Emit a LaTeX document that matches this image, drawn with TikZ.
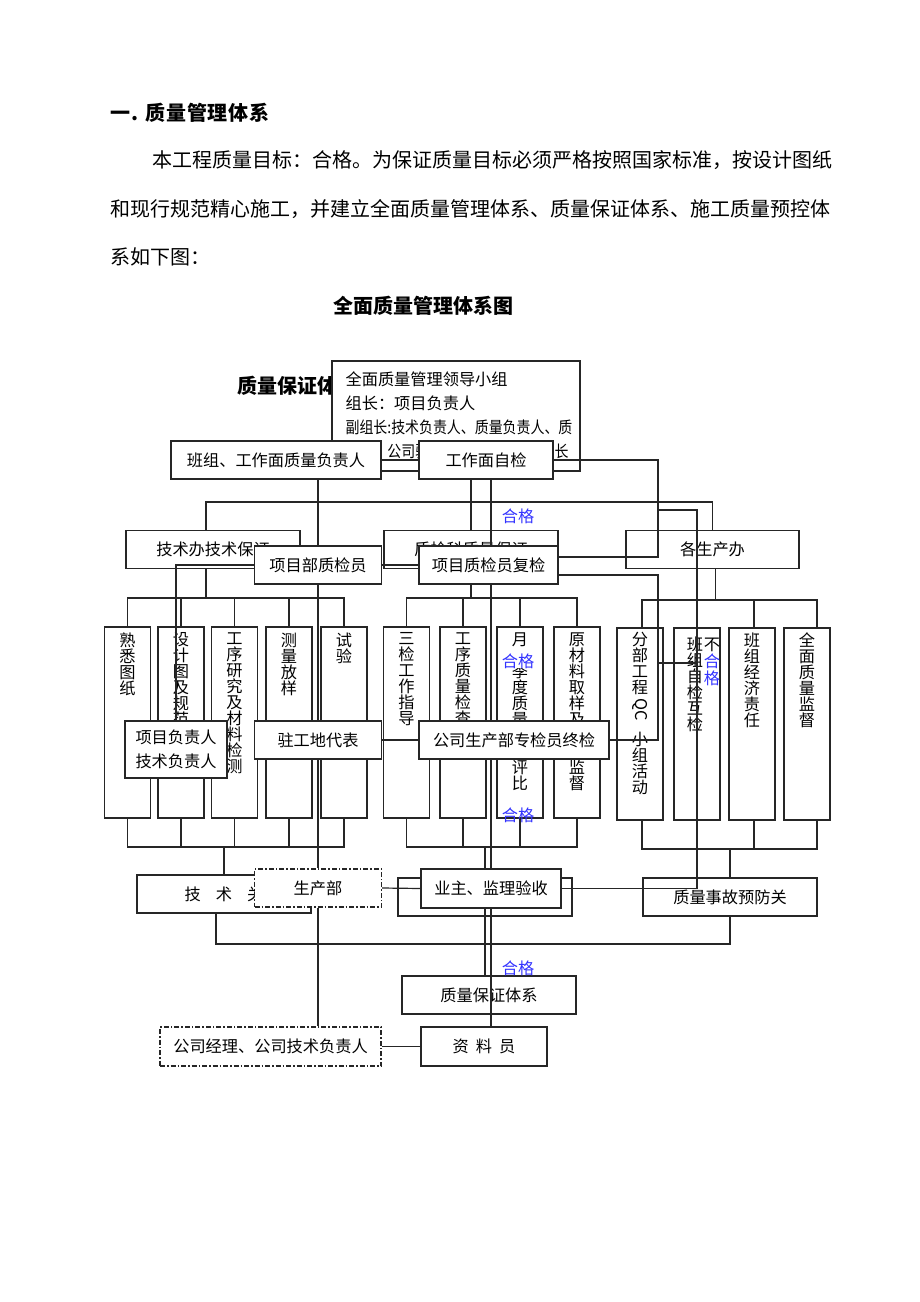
\documentclass[tikz,border=0pt]{standalone}
\usepackage{fontspec}
\setmainfont{Noto Sans CJK SC}
\usepackage{graphicx}
\definecolor{okblue}{RGB}{51,51,255}
\newcommand\bodyfont{\fontsize{20}{24}\selectfont}
\newcommand\boxfont{\fontsize{16.2}{23.5}\selectfont}
\newcommand\colfont{\fontsize{16.2}{16}\selectfont}

\begin{document}
\begin{tikzpicture}[x=1pt,y=-1pt,
        every node/.style={inner sep=0pt},
        line width=1.2pt, draw=black!85,
        box/.style={draw, fill=white, minimum height=38, font=\boxfont},
        dashbox/.style={box, dash pattern=on 5pt off 2pt on 1.5pt off 2pt},
        col/.style={draw, fill=white, minimum width=46, minimum height=191},
        coltext/.style={anchor=north, align=center, font=\colfont},
        ok/.style={text=okblue, font=\boxfont}]
    \useasboundingbox (0,0) rectangle (920,1302);

    % text above the chart
    \node[anchor=west, font=\bodyfont\bfseries\addfontfeature{LetterSpace=4}, name=head] at (110,113) {一. 质量管理体系};
    \node[anchor=west, font=\bodyfont, name=par1] at (152,160) {本工程质量目标：合格。为保证质量目标必须严格按照国家标准，按设计图纸};
    \node[anchor=west, font=\bodyfont, name=par2] at (110,209) {和现行规范精心施工，并建立全面质量管理体系、质量保证体系、施工质量预控体};
    \node[anchor=west, font=\bodyfont, name=par3] at (110,257) {系如下图：};
    \node[font=\bodyfont\bfseries, name=title] at (423,306) {全面质量管理体系图};
    \node[anchor=west, font=\bodyfont\bfseries, name=qatitle] at (237,386) {质量保证体系图};

    % full quality chart: lines
    \coordinate (busl) at (0,502);
    \coordinate (busa) at (0,598);
    \coordinate (busb) at (0,847);
    \coordinate (busc) at (0,600);
    \coordinate (busd) at (0,849);
    \coordinate (buse) at (0,944);

    \node[draw, fill=white, minimum width=248, minimum height=110, name=lead] at (456,416) {};
    \node[anchor=north west, align=left, font=\fontsize{16.2}{24}\selectfont, name=leadtext] at (345,371)
        {全面质量管理领导小组\\组长：项目负责人\\
         \scalebox{0.86}[1]{副组长:技术负责人、质量负责人、质}\\
         \scalebox{0.86}[1]{检员、公司驻工地代表、施工班组长}};

    \node[box, minimum width=174, name=b3] at (213,549.5) {技术办技术保证};
    \node[box, minimum width=174, name=b4] at (471,549.5) {质检科质量保证};
    \node[box, minimum width=173, name=b5] at (712.5,549.5) {各生产办};

    \draw (lead.south -| b4.north) -- (b4.north);
    \draw ([xshift=-7pt]b3.north) |- (b5.north |- busl) -- (b5.north);

    \draw ([xshift=-7pt]b3.south) -- ([xshift=-7pt]b3.south |- busa);
    \draw (b4.south) -- (b4.south |- busa);
    \draw ([xshift=3pt]b5.south) -- ([xshift=3pt]b5.south |- busc);

    \node[col, name=l1] at (127.5,722.5) {};
    \node[col, name=l2] at (181,722.5) {};
    \node[col, name=l3] at (234.5,722.5) {};
    \node[col, name=l4] at (289,722.5) {};
    \node[col, name=l5] at (344,722.5) {};
    \node[col, name=m1] at (406.5,722.5) {};
    \node[col, name=m2] at (463,722.5) {};
    \node[col, name=m3] at (520,722.5) {};
    \node[col, name=m4] at (577,722.5) {};
    \node[col, minimum height=192, name=r1] at (640,724) {};
    \node[col, minimum height=192, name=r2] at (697,724) {};
    \node[col, minimum height=192, name=r3] at (752,724) {};
    \node[col, minimum height=192, name=r4] at (807,724) {};

    \draw (l1.north) |- (l5.north |- busa) -- (l5.north);
    \draw (l1.south) |- (l5.south |- busb) -- (l5.south);
    \foreach \n in {l2,l3,l4} {
        \draw (\n.north) -- (\n.north |- busa);
        \draw (\n.south) -- (\n.south |- busb);
    }
    \draw (m1.north) |- (m4.north |- busa) -- (m4.north);
    \draw (m1.south) |- (m4.south |- busb) -- (m4.south);
    \foreach \n in {m2,m3} {
        \draw (\n.north) -- (\n.north |- busa);
        \draw (\n.south) -- (\n.south |- busb);
    }
    \draw ([xshift=2pt]r1.north) |- ([xshift=10pt]r4.north |- busc) -- ([xshift=10pt]r4.north);
    \draw ([xshift=2pt]r1.south) |- ([xshift=10pt]r4.south |- busd) -- ([xshift=10pt]r4.south);
    \draw (r2.north) -- (r2.north |- busc);
    \draw (r2.south) -- (r2.south |- busd);
    \draw ([xshift=2pt]r3.north) -- ([xshift=2pt]r3.north |- busc);
    \draw ([xshift=2pt]r3.south) -- ([xshift=2pt]r3.south |- busd);

    \node[box, minimum width=174, name=jsg] at (224,894) {技\hspace{15pt}术\hspace{15pt}关};
    \node[draw, minimum width=174, minimum height=38, name=zlg] at (485,897) {};
    \node[box, minimum width=174, name=sgg] at (730,897) {质量事故预防关};
    \node[box, minimum width=174, name=zlbz] at (489,995) {质量保证体系};

    \draw (jsg.north) -- (jsg.north |- busb);
    \draw (sgg.north) -- (sgg.north |- busd);
    \draw ([xshift=-8pt]jsg.south) |- (sgg.south |- buse) -- (sgg.south);
    \draw (zlg.north |- busb) -- (zlg.north |- zlbz.north);

    % column texts
    \node[coltext, name=tl1] at (127.5,632) {熟\\悉\\图\\纸};
    \node[coltext, name=tl2] at (181,632) {设\\计\\图\\及\\规\\范};
    \node[coltext, name=tl3] at (234.5,632) {工\\序\\研\\究\\及\\材\\料\\检\\测};
    \node[coltext, name=tl4] at (289,632) {测\\量\\放\\样};
    \node[coltext, name=tl5] at (344,632) {试\\验};
    \node[coltext, name=tm1] at (406.5,632) {三\\检\\工\\作\\指\\导};
    \node[coltext, name=tm2] at (463,632) {工\\序\\质\\量\\检\\查};
    \node[coltext, name=tm3] at (520,632) {月\\、\\季\\度\\质\\量\\检\\查\\评\\比};
    \node[coltext, name=tm4] at (577,632) {原\\材\\料\\取\\样\\及\\送\\检\\监\\督};
    \node[coltext, name=tr1a] at (640,632) {分\\部\\工\\程};
    \node[font=\colfont, rotate=-90, name=tr1b] at (640,710) {QC};
    \node[coltext, name=tr1c] at (640,732) {小\\组\\活\\动};
    \node[coltext, name=tr2] at (695,636) {班\\组\\自\\检\\互\\检};
    \node[coltext, name=tr3] at (752,632) {班\\组\\经\\济\\责\\任};
    \node[coltext, name=tr4] at (807,632) {全\\面\\质\\量\\监\\督};

    % quality assurance flow: lines
    \coordinate (rx) at (658,0);
    \coordinate (ry) at (697,0);
    \coordinate (fb1) at (658,510);
    \coordinate (fb2) at (658,663);

    \node[box, minimum width=210, name=b1] at (276,460) {班组、工作面质量负责人};
    \node[box, minimum width=134, name=b2] at (486,460) {工作面自检};
    \node[box, minimum width=127, name=b6] at (318,565) {项目部质检员};
    \node[box, minimum width=139, name=b7] at (488.5,565) {项目质检员复检};
    \node[box, minimum width=102, minimum height=57, align=center, name=xmfz] at (176,749.5) {项目负责人\\技术负责人};
    \node[box, minimum width=127, name=zgd] at (318,740) {驻工地代表};
    \node[box, minimum width=190, name=gszj] at (514,740) {公司生产部专检员终检};
    \node[dashbox, minimum width=127, name=scb] at (318,888) {生产部};
    \node[box, minimum width=140, minimum height=39, name=yz] at (491,888.5) {业主、监理验收};
    \node[dashbox, minimum width=221, minimum height=39, name=gsjl] at (270.5,1046.5) {公司经理、公司技术负责人};
    \node[box, minimum width=126, minimum height=39, name=zly] at (484,1046.5) {资\hspace{7pt}料\hspace{7pt}员};

    \draw (b1.east) -- (b2.west);
    \draw (b2.east) -| ([yshift=8pt]b7.east -| rx) -- ([yshift=8pt]b7.east);
    \draw ([yshift=-10pt]b7.east) -| (gszj.east -| rx) -- (gszj.east);
    \draw (fb1) -- (fb1 -| ry) |- (yz.east);
    \draw (fb2) -- (fb2 -| ry);
    \draw (b6.east) -- (b7.west);
    \draw (b6.west) -| (xmfz.north);
    \draw (zgd.east) -- (gszj.west);
    \draw (scb.east) -- (yz.west);
    \draw (gsjl.east) -- (zly.west);
    \draw (b1.south -| b6.north) -- (b6.north);
    \draw (b6.south) -- (zgd.north);
    \draw (zgd.south) -- (scb.north);
    \draw (scb.south) -- (gsjl.north -| scb.south);
    \draw (b2.south -| yz.north) -- (b7.north -| yz.north);
    \draw (b7.south -| yz.north) -- (gszj.north -| yz.north);
    \draw (gszj.south -| yz.north) -- (yz.north);
    \draw (yz.south) -- (zly.north -| yz.south);

    % labels
    \node[ok, name=ok1] at (518,516) {合格};
    \node[ok, fill=white, name=ok2] at (518,661) {合格};
    \node[ok, name=ok3] at (518,815) {合格};
    \node[ok, name=ok4] at (518,968) {合格};
    \node[coltext, font=\fontsize{16.2}{17}\selectfont, name=bhg] at (712,637) {不\\\textcolor{okblue}{合}\\\textcolor{okblue}{格}};
\end{tikzpicture}
\end{document}
